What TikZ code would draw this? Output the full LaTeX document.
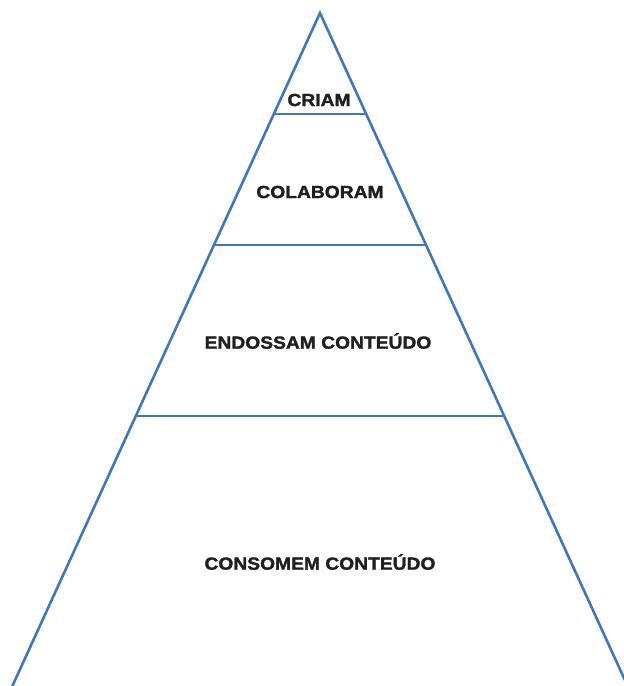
\documentclass[tikz,border=0pt]{standalone}
\usepackage{fontspec}
\newfontfamily\labfont[FakeStretch=1.1,FakeBold=1.6]{Liberation Sans}
\definecolor{pyrblue}{HTML}{4177B6}
\tikzset{
  edge/.style={draw=pyrblue, line width=2.6pt, line join=miter},
  divider/.style={draw=pyrblue, line width=2.6pt},
  lab/.style={font=\labfont\bfseries\fontsize{17.5}{20}\selectfont, text=black!88, inner sep=0pt}
}
\begin{document}
\begin{tikzpicture}[x=1pt,y=-1pt]
\useasboundingbox (0,0) rectangle (624,686);
\clip (0,0) rectangle (624,686);
\coordinate (apex) at (320,13);
\coordinate (bl) at (12.4,686);
\coordinate (br) at (627.6,686);
\draw[edge] (bl) -- (apex) -- (br);
\coordinate (d1l) at (273.8,114);
\coordinate (d1r) at (366.2,114);
\coordinate (d2l) at (214,245);
\coordinate (d2r) at (426,245);
\coordinate (d3l) at (135.8,416);
\coordinate (d3r) at (504.2,416);
\draw[divider] (d1l) -- (d1r);
\draw[divider] (d2l) -- (d2r);
\draw[divider] (d3l) -- (d3r);
\node[lab] (criam) at (319,100) {CRIAM};
\node[lab] (colab) at (320,192) {COLABORAM};
\node[lab] (endos) at (318,341) {ENDOSSAM CONTEÚDO};
\node[lab] (consom) at (320,562) {CONSOMEM CONTEÚDO};
\end{tikzpicture}
\end{document}
